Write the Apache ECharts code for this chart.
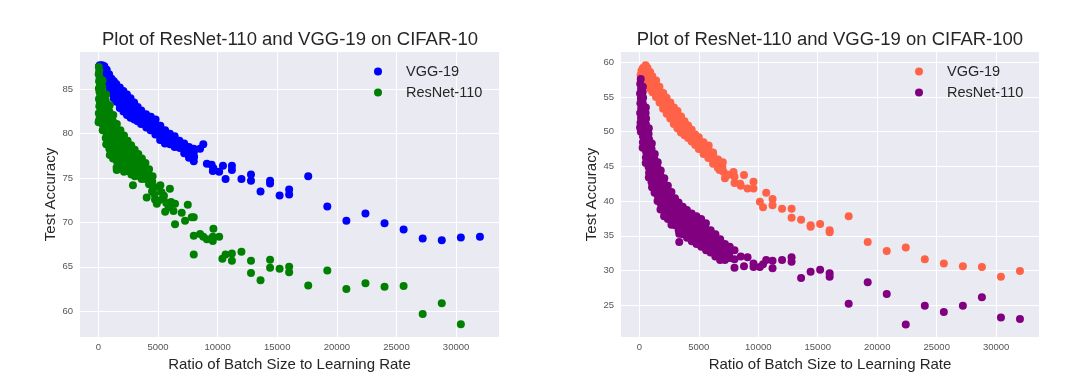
<!DOCTYPE html>
<html>
<head>
<meta charset="utf-8">
<title>ResNet-110 / VGG-19 batch size vs learning rate</title>
<script src="https://cdn.jsdelivr.net/npm/echarts@6/dist/echarts.min.js"></script>
<style>
  html, body { margin: 0; padding: 0; background: #fff; }
  #chart { width: 1080px; height: 389px; }
</style>
</head>
<body>
<div id="chart"></div>
<script>
/* two seaborn-style scatter panels: CIFAR-10 (left), CIFAR-100 (right) */

const xTicks = [0, 5000, 10000, 15000, 20000, 25000, 30000];
const yTicksC10 = [60, 65, 70, 75, 80, 85];
const yTicksC100 = [25, 30, 35, 40, 45, 50, 55, 60];
const titles = ['Plot of ResNet-110 and VGG-19 on CIFAR-10', 'Plot of ResNet-110 and VGG-19 on CIFAR-100'];
const seriesNames = ['VGG-19', 'ResNet-110'];

// CIFAR-10, VGG-19  [ratio, accuracy]
const vggC10 = [
  [60, 87.6], [120, 87.7], [200, 87.5], [150, 87.1], [250, 87.3], [90, 86.9],
  [320, 87.7], [380, 87.2], [300, 86.7], [420, 86.5],
  [500, 87.6], [560, 87.2], [480, 86.8], [540, 86.3], [520, 86.0],
  [700, 87.2], [660, 86.8], [740, 86.4], [700, 86.0], [680, 85.6],
  [900, 86.7], [940, 86.3], [870, 85.9], [910, 85.5], [930, 85.1],
  [1100, 86.2], [1070, 85.8], [1130, 85.4], [1100, 85.0], [1080, 84.6],
  [1300, 85.9], [1330, 85.5], [1270, 85.1], [1300, 84.7], [1320, 84.3], [1290, 84.0],
  [1500, 85.6], [1530, 85.2], [1480, 84.8], [1510, 84.4], [1490, 84.0], [1520, 83.6],
  [1800, 85.2], [1770, 84.8], [1830, 84.4], [1800, 84.0], [1780, 83.6], [1820, 83.2], [1800, 82.9],
  [2100, 84.8], [2070, 84.4], [2130, 84.0], [2100, 83.6], [2080, 83.2], [2120, 82.8], [2100, 82.5],
  [2400, 84.4], [2370, 84.0], [2430, 83.6], [2400, 83.2], [2380, 82.8], [2420, 82.4], [2400, 82.1],
  [2700, 84.0], [2670, 83.6], [2730, 83.2], [2700, 82.8], [2680, 82.4], [2720, 82.0], [2700, 81.8],
  [3000, 83.5], [2970, 83.1], [3030, 82.7], [3000, 82.3], [2980, 81.9], [3020, 81.6],
  [3300, 83.0], [3270, 82.6], [3330, 82.2], [3300, 81.8], [3290, 81.4],
  [3600, 82.6], [3570, 82.2], [3630, 81.8], [3600, 81.4], [3580, 81.1],
  [4000, 82.2], [3960, 81.8], [4040, 81.4], [4000, 81.0], [4020, 80.7],
  [4400, 81.9], [4370, 81.5], [4430, 81.1], [4400, 80.7], [4380, 80.4],
  [4800, 81.6], [4770, 81.2], [4830, 80.8], [4800, 80.3], [4780, 79.9],
  [5200, 80.9], [5170, 80.5], [5230, 80.1], [5200, 79.7], [5180, 79.3],
  [5600, 80.4], [5570, 80.0], [5630, 79.6], [5600, 79.2], [5580, 78.9],
  [6000, 80.0], [6040, 79.6], [5970, 79.2], [6010, 78.8],
  [6400, 79.7], [6370, 79.3], [6430, 78.9], [6400, 78.5],
  [6800, 79.2], [6770, 78.8], [6830, 78.4],
  [7200, 78.9], [7170, 78.5], [7230, 78.1], [7200, 77.8],
  [7600, 78.5], [7570, 78.1], [7630, 77.6], [7600, 77.3],
  [8000, 78.3], [8000, 77.9], [8030, 77.4], [8000, 76.9],
  [8530, 78.3], [8800, 78.8],
  [9100, 76.6], [9500, 76.5], [9650, 76.1], [9600, 75.8], [10133, 75.7], [10450, 76.4],
  [10667, 74.9], [11200, 76.4], [11200, 75.9], [12000, 74.9], [12800, 75.4], [12800, 74.7],
  [13600, 73.5], [14400, 74.7], [14400, 74.4], [15200, 73.05], [16000, 73.7], [16000, 73.15],
  [17600, 75.2], [19200, 71.8], [20800, 70.2], [22400, 71.0], [24000, 69.9], [25600, 69.2],
  [27200, 68.2], [28800, 68.0], [30400, 68.3], [32000, 68.4]
];

// CIFAR-10, ResNet-110
const resC10 = [
  [40, 87.5], [80, 87.1], [30, 86.7], [110, 86.3], [60, 85.9], [140, 85.5], [40, 85.1], [100, 84.7],
  [170, 84.3], [50, 83.9], [130, 83.5], [80, 83.1], [190, 82.7], [40, 82.3], [120, 81.9], [60, 81.5], [20, 81.3],
  [350, 86.0], [330, 85.3], [370, 84.6], [350, 83.9], [330, 83.2], [370, 82.5], [350, 81.8], [330, 81.1], [360, 80.4],
  [650, 84.4], [620, 83.7], [680, 83.0], [650, 82.3], [630, 81.6], [670, 80.9], [650, 80.2], [620, 79.5], [660, 78.8],
  [950, 83.2], [920, 82.5], [980, 81.8], [950, 81.1], [930, 80.4], [970, 79.7], [950, 79.0], [920, 78.3], [960, 77.6],
  [1250, 82.1], [1220, 81.4], [1280, 80.7], [1250, 80.0], [1230, 79.3], [1270, 78.6], [1250, 77.9], [1230, 77.2],
  [1550, 81.1], [1520, 80.4], [1580, 79.7], [1550, 79.0], [1530, 78.3], [1570, 77.6], [1550, 76.9], [1530, 76.2],
  [1850, 80.4], [1820, 79.7], [1880, 79.0], [1850, 78.3], [1830, 77.6], [1870, 76.9], [1850, 76.3],
  [2150, 79.8], [2120, 79.1], [2180, 78.4], [2150, 77.7], [2130, 77.0], [2170, 76.3], [2150, 75.7],
  [2450, 79.2], [2420, 78.5], [2480, 77.8], [2450, 77.1], [2430, 76.4], [2470, 75.8],
  [2750, 78.7], [2720, 78.0], [2780, 77.3], [2750, 76.6], [2730, 76.0], [2770, 75.4],
  [3050, 78.2], [3020, 77.5], [3080, 76.9], [3050, 76.3], [3030, 75.7], [3060, 75.2],
  [3350, 77.7], [3320, 77.1], [3380, 76.5], [3350, 75.9], [3330, 75.3],
  [3650, 77.2], [3620, 76.6], [3680, 76.0], [3650, 75.4], [3630, 74.9],
  [3950, 76.7], [3920, 76.1], [3980, 75.5], [3950, 74.9],
  [4250, 76.0], [4220, 75.4], [4280, 74.8], [4250, 74.3],
  [4550, 75.2], [4520, 74.6], [4580, 74.0],
  [1400, 77.8], [1540, 75.9], [1960, 76.2], [2900, 74.2],
  [4054, 72.8], [4500, 73.5], [4700, 73.2], [4750, 72.6], [4900, 72.1], [5050, 74.0], [5100, 72.5],
  [5200, 74.2], [5300, 73.4], [5450, 72.7], [5500, 73.0], [5600, 71.2], [5700, 72.2], [5900, 71.7],
  [6000, 73.8], [6100, 72.3], [6300, 71.3], [6430, 72.1], [6430, 69.8], [6990, 71.1], [7270, 70.2],
  [7500, 72.0], [7830, 70.6], [8000, 70.6], [8000, 68.5], [8000, 66.4], [8530, 68.7], [8800, 68.4],
  [9100, 68.1], [9600, 68.4], [9600, 67.9], [9650, 69.3], [10133, 68.4], [10400, 65.9], [10667, 66.4],
  [11200, 66.5], [11200, 65.7], [12000, 66.7], [12800, 65.7], [12800, 64.3], [13600, 63.5],
  [14400, 65.8], [14400, 64.9], [15200, 64.8], [16000, 65.0], [16000, 64.4], [17600, 62.9],
  [19200, 64.6], [20800, 62.5], [22400, 63.15], [24000, 62.75], [25600, 62.85], [27200, 59.7],
  [28800, 60.9], [30400, 58.55]
];

// CIFAR-100, VGG-19
const vggC100 = [
  [100, 57.0], [140, 57.6], [110, 58.2], [180, 58.8],
  [300, 57.4], [280, 58.0], [320, 58.6], [300, 59.2],
  [500, 57.2], [480, 57.8], [520, 58.4], [500, 59.0], [530, 59.6],
  [700, 56.8], [680, 57.4], [720, 58.0], [700, 58.6], [690, 59.2],
  [900, 56.2], [880, 56.8], [920, 57.4], [900, 58.0], [910, 58.6],
  [1100, 55.7], [1080, 56.3], [1120, 56.9], [1100, 57.5], [1090, 58.0],
  [1400, 55.0], [1380, 55.6], [1420, 56.2], [1400, 56.8], [1410, 57.4],
  [1700, 54.2], [1680, 54.8], [1720, 55.4], [1700, 56.0], [1690, 56.5],
  [2000, 53.3], [1980, 53.9], [2020, 54.5], [2000, 55.1], [2010, 55.6],
  [2300, 52.6], [2280, 53.2], [2320, 53.8], [2300, 54.4], [2290, 54.9],
  [2600, 51.9], [2580, 52.5], [2620, 53.1], [2600, 53.7], [2610, 54.2],
  [2900, 51.1], [2880, 51.7], [2920, 52.3], [2900, 52.9], [2910, 53.5],
  [3200, 50.5], [3180, 51.1], [3220, 51.7], [3200, 52.3], [3210, 53.0],
  [3500, 49.9], [3480, 50.5], [3520, 51.1], [3500, 51.7], [3510, 52.2],
  [3800, 49.5], [3780, 50.1], [3820, 50.7], [3800, 51.5],
  [4100, 49.1], [4080, 49.7], [4120, 50.3], [4100, 50.9],
  [4400, 48.6], [4380, 49.2], [4420, 49.8], [4400, 50.3],
  [4700, 48.1], [4680, 48.6], [4720, 49.1], [4700, 49.6],
  [5000, 47.5], [4980, 48.1], [5020, 48.7], [5000, 49.2],
  [5400, 46.8], [5380, 47.4], [5420, 48.0], [5400, 48.5],
  [5800, 46.2], [5780, 46.8], [5820, 47.4], [5830, 48.0],
  [6200, 45.4], [6180, 46.0], [6220, 46.6], [6200, 47.0],
  [6600, 44.8], [6580, 45.4], [6620, 46.0],
  [7000, 44.4], [6980, 45.0], [7020, 45.6],
  [6750, 44.5], [7090, 44.2], [7200, 43.3], [7500, 43.8], [7920, 44.2], [8000, 43.5], [8000, 42.6],
  [8480, 42.5], [8530, 42.2], [8800, 43.75], [9100, 41.8], [9600, 42.8], [9600, 41.8],
  [10133, 39.9], [10400, 39.1], [10667, 41.2], [11200, 40.3], [11200, 39.4], [12000, 38.9],
  [12800, 38.9], [12800, 37.6], [13600, 37.3], [14400, 36.5], [14400, 36.3], [15200, 36.7],
  [16000, 35.8], [16000, 35.5], [17600, 37.8], [19200, 34.1], [20800, 32.8], [22400, 33.3],
  [24000, 31.6], [25600, 31.0], [27200, 30.6], [28800, 30.5], [30400, 29.1], [32000, 29.9]
];

// CIFAR-100, ResNet-110
const resC100 = [
  [120, 57.6], [80, 56.9], [150, 56.2], [60, 55.5], [130, 54.8], [90, 54.1], [160, 53.4], [70, 52.7],
  [140, 52.0], [100, 51.3], [60, 50.6], [130, 50.0],
  [300, 56.5], [280, 55.7], [320, 54.9], [290, 54.1], [310, 53.3], [280, 52.5], [320, 51.7], [300, 50.9],
  [290, 50.1], [310, 49.3], [300, 48.5], [280, 47.7],
  [550, 53.5], [530, 52.7], [570, 51.9], [550, 51.1], [540, 50.3], [560, 49.5], [550, 48.7], [530, 47.9],
  [570, 47.1], [550, 46.3], [540, 45.5],
  [800, 50.5], [780, 49.7], [820, 48.9], [800, 48.1], [790, 47.3], [810, 46.5], [800, 45.7], [780, 44.9],
  [820, 44.1], [800, 43.4],
  [1050, 48.3], [1030, 47.5], [1070, 46.7], [1050, 45.9], [1040, 45.1], [1060, 44.3], [1050, 43.5],
  [1030, 42.7], [1070, 42.0],
  [1300, 46.8], [1280, 46.0], [1320, 45.2], [1300, 44.4], [1290, 43.6], [1310, 42.8], [1300, 42.0], [1280, 41.2],
  [1550, 45.6], [1530, 44.8], [1570, 44.0], [1550, 43.2], [1540, 42.4], [1560, 41.6], [1550, 40.8], [1530, 40.0],
  [1800, 44.4], [1780, 43.6], [1820, 42.8], [1800, 42.0], [1790, 41.2], [1810, 40.4], [1800, 39.6], [1780, 38.8],
  [2100, 43.3], [2080, 42.5], [2120, 41.7], [2100, 40.9], [2090, 40.1], [2110, 39.3], [2100, 38.5], [2080, 37.8],
  [2400, 42.2], [2380, 41.4], [2420, 40.6], [2400, 39.8], [2390, 39.0], [2410, 38.2], [2400, 37.4],
  [2700, 41.3], [2680, 40.5], [2720, 39.7], [2700, 38.9], [2690, 38.1], [2710, 37.3], [2700, 36.6],
  [3000, 40.4], [2980, 39.6], [3020, 38.8], [3000, 38.0], [2990, 37.2], [3010, 36.5],
  [3300, 39.8], [3280, 39.0], [3320, 38.2], [3300, 37.4], [3290, 36.6], [3310, 35.8],
  [3650, 39.2], [3630, 38.4], [3670, 37.6], [3650, 36.8], [3640, 36.0], [3660, 35.2],
  [4000, 38.7], [3980, 37.9], [4020, 37.1], [4000, 36.3], [3990, 35.5], [4010, 34.7],
  [4400, 38.2], [4380, 37.4], [4420, 36.6], [4400, 35.8], [4390, 35.0], [4410, 34.2],
  [4800, 37.8], [4780, 37.0], [4820, 36.2], [4800, 35.4], [4790, 34.6], [4810, 33.8],
  [5200, 37.4], [5180, 36.6], [5220, 35.8], [5200, 35.0], [5190, 34.2], [5210, 33.4],
  [5600, 36.8], [5580, 36.0], [5620, 35.2], [5600, 34.4], [5590, 33.6], [5610, 32.9],
  [6000, 35.8], [5980, 35.0], [6020, 34.2], [6000, 33.4], [5990, 32.6],
  [6400, 35.2], [6380, 34.4], [6420, 33.6], [6400, 32.8], [6390, 32.0],
  [6800, 34.5], [6780, 33.7], [6820, 32.9], [6800, 32.1], [6790, 31.5],
  [7200, 33.8], [7180, 33.0], [7220, 32.2], [7200, 31.5],
  [7600, 33.4], [7580, 32.6], [7620, 31.8],
  [8000, 32.9], [8000, 31.6], [8000, 30.4],
  [3355, 35.3], [3355, 34.1], [8530, 32.0], [8800, 30.6], [9100, 31.9], [9600, 31.0], [9600, 30.5],
  [10133, 30.5], [10400, 30.9], [10667, 31.5], [11200, 31.4], [11200, 30.3], [12000, 31.5],
  [12800, 31.9], [12800, 31.25], [13600, 28.9], [14400, 29.8], [15200, 30.1], [16000, 29.6],
  [16000, 29.1], [17600, 25.2], [19200, 28.3], [20800, 26.6], [22400, 22.2], [24000, 24.9],
  [25600, 24.0], [27200, 24.9], [28800, 26.15], [30400, 23.2], [32000, 23.0]
];

const colors = { vggC10: '#0000ff', resC10: '#008000', vggC100: '#ff6347', resC100: '#800080' };

const FONT = 'Liberation Sans, Arial, sans-serif';
const TEXT = '#262626';

function xAxisFor(gridIndex) {
  return {
    type: 'value', gridIndex, min: -1540, max: 33600,
    name: 'Ratio of Batch Size to Learning Rate', nameLocation: 'middle', nameGap: 17,
    nameTextStyle: { fontFamily: FONT, fontSize: 15, color: TEXT },
    axisLine: { show: false },
    axisTick: { show: false, customValues: xTicks },
    axisLabel: {
      customValues: xTicks, margin: 5, fontFamily: FONT, fontSize: 9.5, color: '#555',
      formatter: (v) => String(v),
    },
    splitLine: { show: true, lineStyle: { color: '#fff', width: 1 } },
  };
}

function yAxisFor(gridIndex, min, max, ticks) {
  return {
    type: 'value', gridIndex, min, max,
    name: 'Test Accuracy', nameLocation: 'middle', nameGap: 21,
    nameTextStyle: { fontFamily: FONT, fontSize: 15, color: TEXT },
    axisLine: { show: false },
    axisTick: { show: false, customValues: ticks },
    axisLabel: { customValues: ticks, margin: 7, fontFamily: FONT, fontSize: 9.5, color: '#555' },
    splitLine: { show: true, lineStyle: { color: '#fff', width: 1 } },
  };
}

function scatter(name, data, color, idx) {
  return {
    type: 'scatter', name, data, xAxisIndex: idx, yAxisIndex: idx,
    symbol: 'circle', symbolSize: 8,
    itemStyle: { color, opacity: 1 },
    emphasis: { disabled: true },
    animation: false,
  };
}

function legendFor(left, c1, c2) {
  return {
    orient: 'vertical', left, top: 59, itemGap: 6,
    itemWidth: 46, itemHeight: 8, icon: 'circle',
    textStyle: { fontFamily: FONT, fontSize: 14.5, color: TEXT },
    data: [
      { name: seriesNames[0], itemStyle: { color: c1 } },
      { name: seriesNames[1], itemStyle: { color: c2 } },
    ],
    selectedMode: false,
  };
}

const chart = echarts.init(document.getElementById('chart'), null, { renderer: 'canvas' });
chart.setOption({
  backgroundColor: '#fff',
  animation: false,
  title: [
    { text: titles[0], left: 290, top: 30, textAlign: 'center', padding: 0,
      textStyle: { fontFamily: FONT, fontSize: 18.5, fontWeight: 'normal', color: TEXT } },
    { text: titles[1], left: 830, top: 30, textAlign: 'center', padding: 0,
      textStyle: { fontFamily: FONT, fontSize: 18.5, fontWeight: 'normal', color: TEXT } },
  ],
  grid: [
    { left: 80, width: 419, top: 52, height: 285, show: true, backgroundColor: '#eaeaf2', borderWidth: 0 },
    { left: 621, width: 418, top: 52, height: 285, show: true, backgroundColor: '#eaeaf2', borderWidth: 0 },
  ],
  xAxis: [xAxisFor(0), xAxisFor(1)],
  yAxis: [yAxisFor(0, 57.1, 89.2, yTicksC10), yAxisFor(1, 20.4, 61.5, yTicksC100)],
  legend: [legendFor(369, colors.vggC10, colors.resC10), legendFor(910, colors.vggC100, colors.resC100)],
  series: [
    scatter(seriesNames[0], vggC10, colors.vggC10, 0),
    scatter(seriesNames[1], resC10, colors.resC10, 0),
    scatter(seriesNames[0], vggC100, colors.vggC100, 1),
    scatter(seriesNames[1], resC100, colors.resC100, 1),
  ],
});
window.addEventListener('resize', () => chart.resize());
</script>
</body>
</html>
